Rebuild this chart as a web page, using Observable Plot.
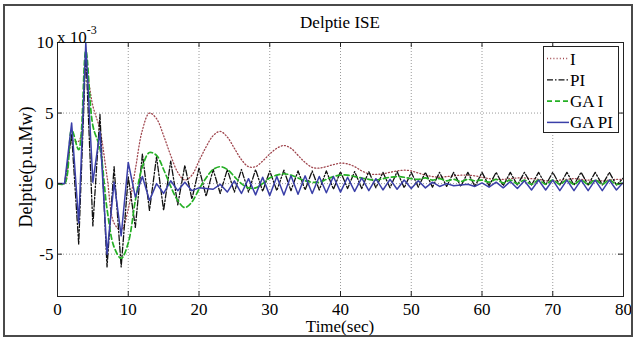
<!DOCTYPE html>
<html><head><meta charset="utf-8">
<script src="https://cdn.jsdelivr.net/npm/d3@7"></script>
<script src="https://cdn.jsdelivr.net/npm/@observablehq/plot@0.6"></script>
<style>
body{margin:0;background:#fff;}
#wrap{position:relative;width:634px;height:338px;font-family:"Liberation Serif","Times New Roman",serif;color:#000;overflow:hidden;}
.abs{position:absolute;white-space:nowrap;line-height:1;font-family:"Liberation Serif",serif;}
#wrap svg{position:absolute;left:0;top:0;}
#wrap svg text{font-family:"Liberation Serif",serif !important;}
</style></head><body><div id="wrap"></div>
<script>
// time axis (sec)
const time = [0,1,2,3,4,5,6,7,8,9,10,11,12,13,14,15,16,17,18,19,20,21,22,23,24,25,26,27,28,29,30,31,32,33,34,35,36,37,38,39,40,41,42,43,44,45,46,47,48,49,50,51,52,53,54,55,56,57,58,59,60,61,62,63,64,65,66,67,68,69,70,71,72,73,74,75,76,77,78,79,80];
// Delptie (x 10^-3 p.u.Mw)
const valsI = [0,0,3.0,3.0,8.0,5.5,3.8,0.5,-2.8,-3.3,-1.8,1.0,3.8,5.0,4.6,3.4,2.0,0.8,0.25,0.6,1.6,2.6,3.4,3.7,3.3,2.5,1.7,1.2,1.2,1.6,2.1,2.5,2.7,2.5,2.0,1.5,1.15,1.1,1.2,1.35,1.45,1.4,1.2,0.9,0.7,0.65,0.7,0.8,0.9,0.95,0.9,0.75,0.6,0.5,0.45,0.5,0.55,0.6,0.6,0.55,0.45,0.35,0.3,0.3,0.35,0.4,0.4,0.35,0.3,0.2,0.2,0.25,0.3,0.35,0.3,0.25,0.2,0.2,0.25,0.3,0.3];
const valsPI = [0,0,3.5,-4.3,9.3,-3.0,4.9,-5.9,1.2,-5.9,0.5,-3.1,2.1,-1.9,1.9,-1.9,1.6,-1.5,1.3,-1.1,1.1,-0.9,1.0,-0.7,1.0,-0.6,1.0,-0.6,1.0,-0.55,0.9,-0.5,0.95,-0.5,0.9,-0.45,0.9,-0.45,0.9,-0.4,0.85,-0.35,0.85,-0.35,0.85,-0.3,0.8,-0.3,0.85,-0.3,0.8,-0.25,0.8,-0.25,0.8,-0.2,0.8,-0.2,0.8,-0.2,0.8,-0.15,0.8,-0.15,0.8,-0.1,0.8,-0.1,0.8,-0.1,0.8,-0.1,0.8,-0.1,0.8,-0.1,0.8,-0.1,0.8,-0.1,0.4];
const valsGAI = [0,0,3.8,2.4,9.4,4.1,2.5,-1.8,-4.5,-5.3,-4.2,-1.2,1.2,2.2,2.0,1.0,-0.2,-1.2,-1.7,-1.3,-0.4,0.4,1.0,1.2,1.0,0.5,0.0,-0.3,-0.3,0.0,0.4,0.6,0.7,0.6,0.4,0.2,0.1,0.1,0.3,0.5,0.6,0.6,0.5,0.4,0.3,0.25,0.35,0.45,0.5,0.45,0.35,0.3,0.4,0.25,0.35,0.2,0.3,0.15,0.3,0.2,0.25,0.1,0.3,0.05,0.25,0.0,0.25,-0.05,0.25,-0.05,0.25,-0.05,0.25,-0.05,0.25,-0.05,0.25,-0.05,0.25,-0.05,0.1];
const valsGAPI = [0,0,4.3,-2.8,10,0.1,3.7,-5.0,0.1,-3.7,1.5,-0.95,0.5,-1.2,0.0,-0.7,0.2,-0.5,0.1,-0.5,-0.3,-0.35,-0.4,-0.05,-0.6,0.2,-0.7,0.35,-0.8,0.45,-0.85,0.5,-0.8,0.55,-0.75,0.55,-0.7,0.5,-0.65,0.5,-0.6,0.45,-0.55,0.4,-0.5,0.35,-0.45,0.3,-0.4,0.25,-0.35,0.2,-0.3,0.1,-0.2,0.0,-0.15,-0.1,-0.05,-0.2,0.05,-0.25,0.1,-0.3,0.15,-0.35,0.2,-0.45,0.25,-0.45,0.25,-0.5,0.25,-0.5,0.25,-0.5,0.25,-0.5,0.25,-0.45,0.1];
const seriesNames = ["I","PI","GA I","GA PI"];
const xTicks = [0,10,20,30,40,50,60,70,80];
const yTicks = [-5,0,5,10];

const styles = [
  {stroke:"#a0464e", dash:"1,2.2", width:1.3, curve:"catmull-rom"},
  {stroke:"#111111", dash:"6,2,1.5,2", width:1.3, curve:"linear"},
  {stroke:"#25b025", dash:"5,3", width:1.7, curve:"catmull-rom"},
  {stroke:"#3a3fa8", dash:null, width:1.5, curve:"linear"}
];
const allVals = [valsI, valsPI, valsGAI, valsGAPI];

const W = 634, H = 338, mL = 57, mR = 11, mT = 42, mB = 42;
const plotW = W - mL - mR, plotH = H - mT - mB;

const lineMarks = allVals.map((vals, k) => Plot.line(
  time.map((t, i) => ({t, v: vals[i], s: seriesNames[k]})),
  {x: "t", y: "v", stroke: styles[k].stroke, strokeWidth: styles[k].width,
   strokeDasharray: styles[k].dash, curve: styles[k].curve, clip: true}
));

const chart = Plot.plot({
  width: W, height: H,
  marginLeft: mL, marginRight: mR, marginTop: mT, marginBottom: mB,
  style: {fontFamily: "'Liberation Serif',serif", fontSize: "17px", background: "transparent", color: "#000"},
  x: {domain: [0, 80]},
  y: {domain: [-8, 10]},
  marks: [
    Plot.ruleX(xTicks.slice(1, -1), {x: d => d, stroke: "#9a9a9a", strokeDasharray: "1,2", strokeWidth: 1}),
    Plot.ruleY(yTicks.slice(0, -1), {y: d => d, stroke: "#9a9a9a", strokeDasharray: "1,2", strokeWidth: 1}),
    ...lineMarks,
    Plot.frame({stroke: "#222", strokeWidth: 1}),
    Plot.ruleX(xTicks, {x: d => d, insetTop: plotH - 5, stroke: "#222"}),
    Plot.ruleX(xTicks, {x: d => d, insetBottom: plotH - 5, stroke: "#222"}),
    Plot.ruleY(yTicks, {y: d => d, insetRight: plotW - 5, stroke: "#222"}),
    Plot.ruleY(yTicks, {y: d => d, insetLeft: plotW - 5, stroke: "#222"}),
    Plot.axisX(xTicks, {tickSize: 0, tickPadding: 6, label: null, tickFormat: d => String(d), fontSize: 17}),
    Plot.axisY(yTicks, {tickSize: 0, tickPadding: 4, label: null, tickFormat: d => String(d), fontSize: 17})
  ]
});

const wrap = document.getElementById("wrap");
wrap.appendChild(chart);

function addText(txt, css, html) {
  const d = document.createElement("div");
  d.className = "abs";
  if (html) d.innerHTML = txt; else d.textContent = txt;
  Object.assign(d.style, css);
  wrap.appendChild(d);
  return d;
}
// outer figure border
const b = document.createElement("div");
Object.assign(b.style, {position: "absolute", left: "3px", top: "4px", width: "626px", height: "329px", border: "2px solid #4a4a4a"});
wrap.appendChild(b);

addText("Delptie ISE", {left: "0px", width: "680px", textAlign: "center", top: "14px", fontSize: "17px"});
addText("x 10<sup style='font-size:12px;position:relative;top:-2px'>-3</sup>", {left: "57px", top: "26px", fontSize: "17px"}, true);
addText("Time(sec)", {left: "240px", width: "200px", textAlign: "center", top: "318px", fontSize: "17px"});
addText("Delptie(p.u.Mw)", {left: "26px", top: "167px", fontSize: "18px", transform: "translate(-50%,-50%) rotate(-90deg)"});

// legend
const ns = "http://www.w3.org/2000/svg";
const lg = document.createElementNS(ns, "svg");
lg.setAttribute("width", 78); lg.setAttribute("height", 89);
lg.style.position = "absolute"; lg.style.left = "542px"; lg.style.top = "45px";
const rect = document.createElementNS(ns, "rect");
Object.entries({x: 1.5, y: 1.5, width: 75, height: 86, fill: "#fff", stroke: "#222", "stroke-width": 1}).forEach(([k, v]) => rect.setAttribute(k, v));
lg.appendChild(rect);
seriesNames.forEach((name, k) => {
  const cy = 13.5 + k * 21.3;
  const ln = document.createElementNS(ns, "line");
  const attrs = {x1: 5, x2: 27, y1: cy, y2: cy, stroke: styles[k].stroke, "stroke-width": styles[k].width};
  if (styles[k].dash) attrs["stroke-dasharray"] = styles[k].dash;
  Object.entries(attrs).forEach(([a, v]) => ln.setAttribute(a, v));
  lg.appendChild(ln);
  const tx = document.createElementNS(ns, "text");
  tx.setAttribute("x", 28); tx.setAttribute("y", cy + 6);
  tx.setAttribute("font-size", "17");
  tx.textContent = name;
  lg.appendChild(tx);
});
wrap.appendChild(lg);
</script></body></html>
